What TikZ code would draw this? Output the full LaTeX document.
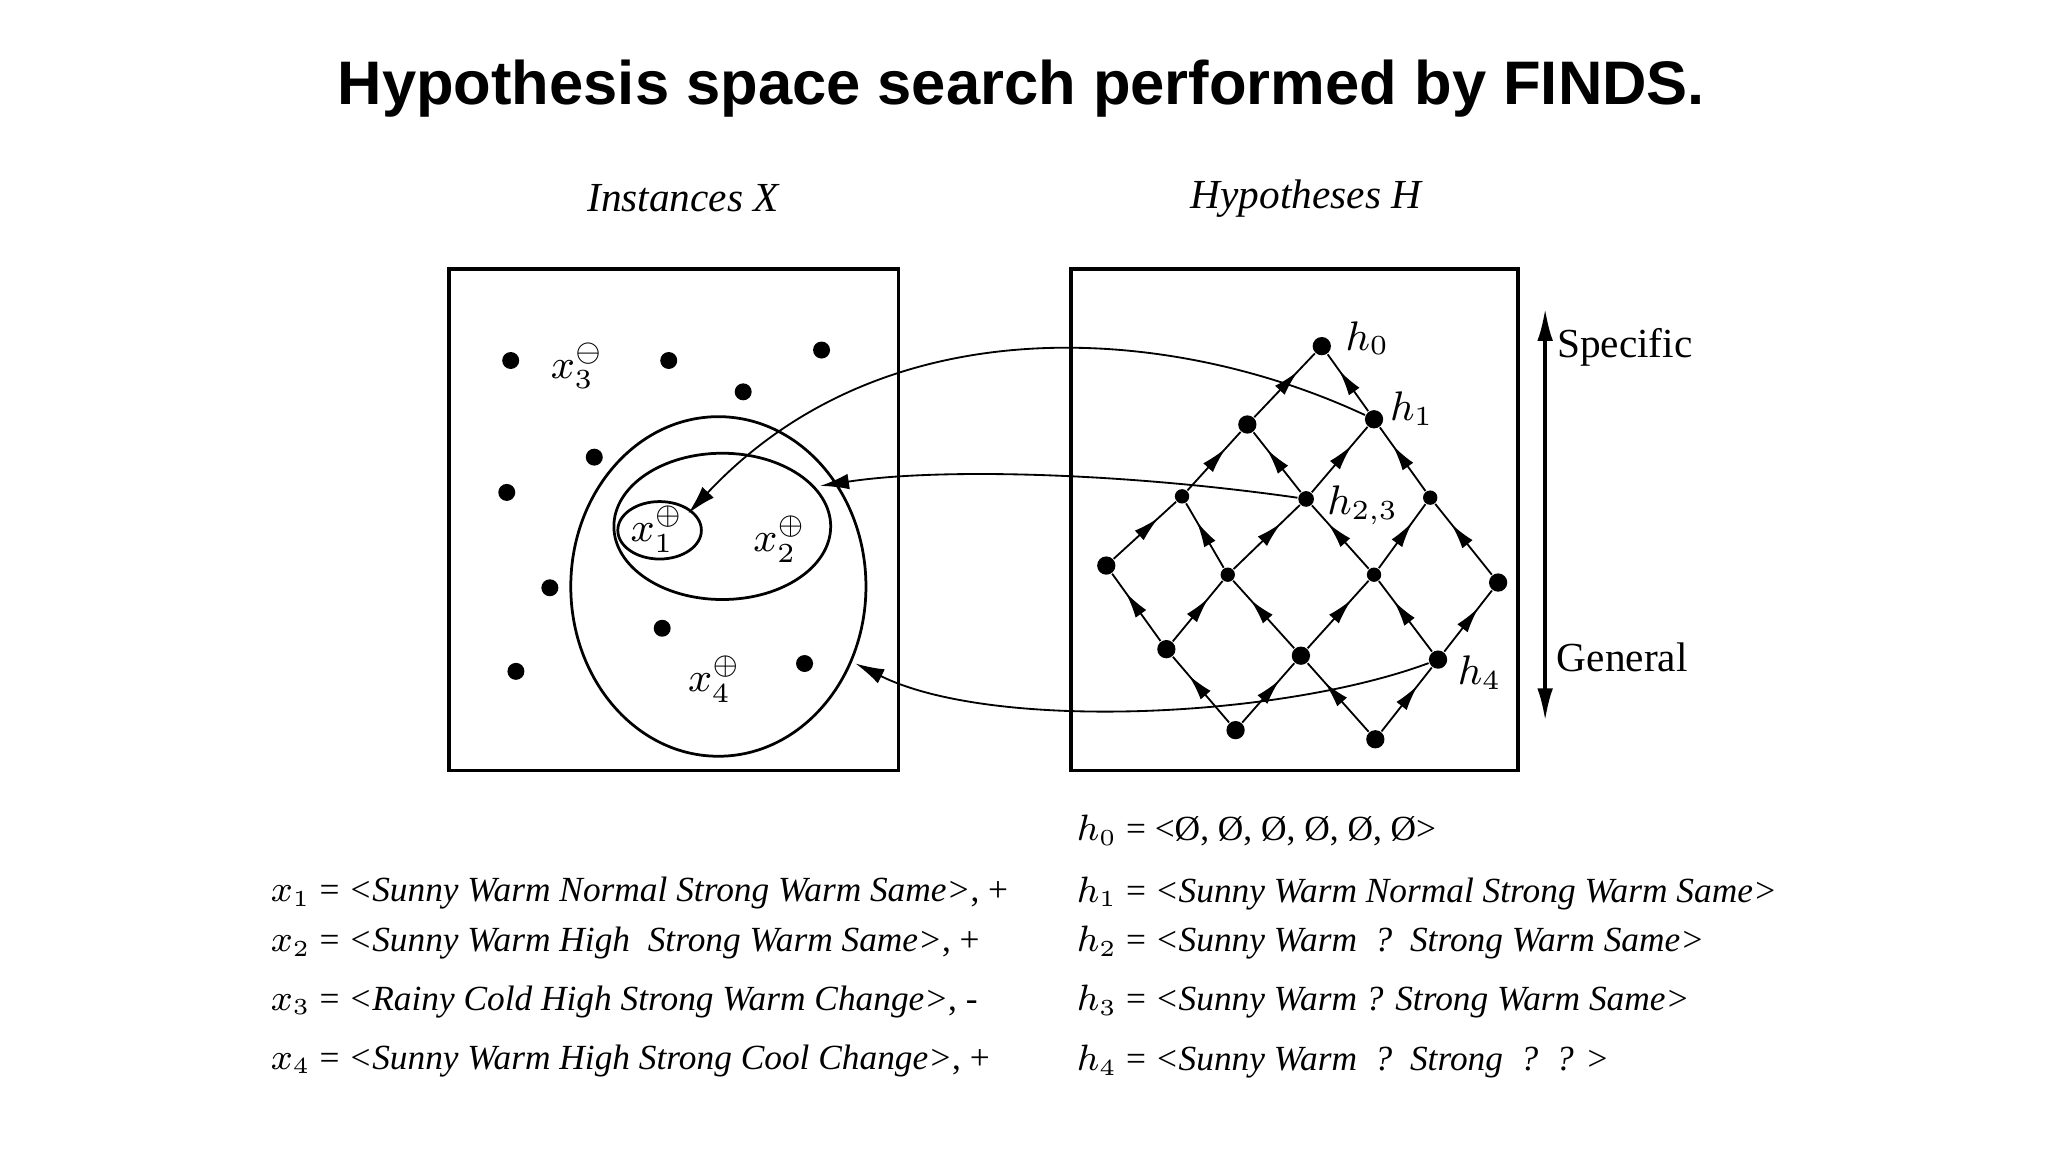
\documentclass[tikz,border=0pt]{standalone}
\usepackage{fontspec}
\setmainfont{Liberation Serif}
\newfontfamily\titlefont{Liberation Sans}
\usetikzlibrary{decorations.markings,arrows.meta}
\begin{document}
\begin{tikzpicture}[x=0.1mm,y=-0.1mm,
  bdot/.style={circle,fill=black,inner sep=0pt,minimum size=#1},
  bdot/.default=1.3mm,
  up/.style={thin,postaction={decorate},decoration={markings,mark=at position 0.72 with {\arrow{Latex[length=2mm,width=1mm]}}}},
  curvearr/.style={thin,-{Latex[length=2.2mm,width=1.2mm]}},
  eq/.style={anchor=west,font=\fontsize{7.7}{9.5}\selectfont}]
\useasboundingbox (0,0) rectangle (1568,882);
\node[font=\titlefont\bfseries\fontsize{13.4}{16}\selectfont] (title) at (782,68) {Hypothesis space search performed by FINDS.};
\node[font=\fontsize{9}{11}\selectfont\itshape] (ix) at (523,152) {Instances X};
\node[font=\fontsize{9}{11}\selectfont\itshape] (hh) at (1000,152) {Hypotheses H};
\draw[thick] (344,206) rectangle (688,590);
\draw[thick] (820,206) rectangle (1162,590);
% instance dots
\foreach \p [count=\i] in {(391,276),(512,276),(629,268),(569,300),(455,350),(388,377),(421,450),(507,481),(395,514),(616,508)}
  \node[bdot] (p\i) at \p {};
\node[font=\small] (x3) at (442,280) {$x_3^{\ominus}$};
\draw[semithick] (550,449) ellipse [x radius=113,y radius=130];
\draw[semithick] (553,403) ellipse [x radius=83,y radius=56];
\draw[semithick] (505,406) ellipse [x radius=32,y radius=22];
\node[font=\small] (x1) at (503,405) {$x_1^{\oplus}$};
\node[font=\small] (x2) at (597,413) {$x_2^{\oplus}$};
\node[font=\small] (x4) at (547,520) {$x_4^{\oplus}$};
\coordinate (t1) at (527,393);
\coordinate (t2) at (628,372);
\coordinate (t3) at (655,508);
% lattice
\node[bdot=1.4mm] (h0) at (1012,265) {};
\node[bdot=1.4mm] (h1) at (1052,321) {};
\node[bdot=1.4mm] (a) at (955,325) {};
\node[bdot=1.1mm] (b) at (905,380) {};
\node[bdot=1.2mm] (h23) at (1000,382) {};
\node[bdot=1.1mm] (c) at (1095,381) {};
\node[bdot=1.4mm] (d) at (847,433) {};
\node[bdot=1.1mm] (e) at (940,440) {};
\node[bdot=1.1mm] (f) at (1052,440) {};
\node[bdot=1.4mm] (g) at (1147,446) {};
\node[bdot=1.4mm] (i) at (893,497) {};
\node[bdot=1.4mm] (j) at (996,502) {};
\node[bdot=1.4mm] (h4) at (1101,505) {};
\node[bdot=1.4mm] (k) at (946,559) {};
\node[bdot=1.4mm] (l) at (1053,566) {};
\foreach \s/\t in {a/h0,h1/h0,b/a,h23/a,h23/h1,c/h1,d/b,e/b,e/h23,f/h23,f/c,g/c,i/d,i/e,j/e,j/f,h4/f,h4/g,k/i,k/j,l/j,l/h4}
  \draw[up] (\s) -- (\t);
\node[anchor=south west,inner sep=1pt,font=\small] at (1026,276) {$h_0$};
\node[anchor=south west,inner sep=1pt,font=\small] at (1060,330) {$h_1$};
\node[anchor=south west,inner sep=1pt,font=\small] at (1012,406) {$h_{2,3}$};
\node[anchor=south west,inner sep=1pt,font=\small] at (1112,532) {$h_4$};
% curves
\draw[curvearr] (h1) .. controls (900,250) and (680,230) .. (t1);
\draw[curvearr] (h23) .. controls (860,362) and (720,358) .. (t2);
\draw[curvearr] (h4) .. controls (980,550) and (760,560) .. (t3);
% specific/general
\coordinate (sg1) at (1183,236);
\coordinate (sg2) at (1183,552);
\draw[thick,{Latex[length=2.5mm,width=1.2mm]}-{Latex[length=2.5mm,width=1.2mm]}] (sg1) -- (sg2);
\node[font=\fontsize{9}{11}\selectfont] (spec) at (1244,266) {Specific};
\node[font=\fontsize{9}{11}\selectfont] (gen) at (1242,503) {General};
% equations
\node[eq] at (195,684) {$x_1$ = \textit{<Sunny Warm Normal Strong Warm Same>}, +};
\node[eq] at (195,722) {$x_2$ = \textit{<Sunny Warm High\ \ Strong Warm Same>}, +};
\node[eq] at (195,767) {$x_3$ = \textit{<Rainy Cold High Strong Warm Change>}, -};
\node[eq] at (195,812) {$x_4$ = \textit{<Sunny Warm High Strong Cool Change>}, +};
\node[eq] at (812,636) {$h_0$ = <Ø, Ø, Ø, Ø, Ø, Ø>};
\node[eq] at (812,684) {$h_1$ = \textit{<Sunny Warm Normal Strong Warm Same>}};
\node[eq] at (812,722) {$h_2$ = \textit{<Sunny Warm\ \ ?\ \ Strong Warm Same>}};
\node[eq] at (812,767) {$h_3$ = \textit{<Sunny Warm ? Strong Warm Same>}};
\node[eq] at (812,813) {$h_4$ = \textit{<Sunny Warm\ \ ?\ \ Strong\ \ ?\ \ ? >}};
\end{tikzpicture}
\end{document}
